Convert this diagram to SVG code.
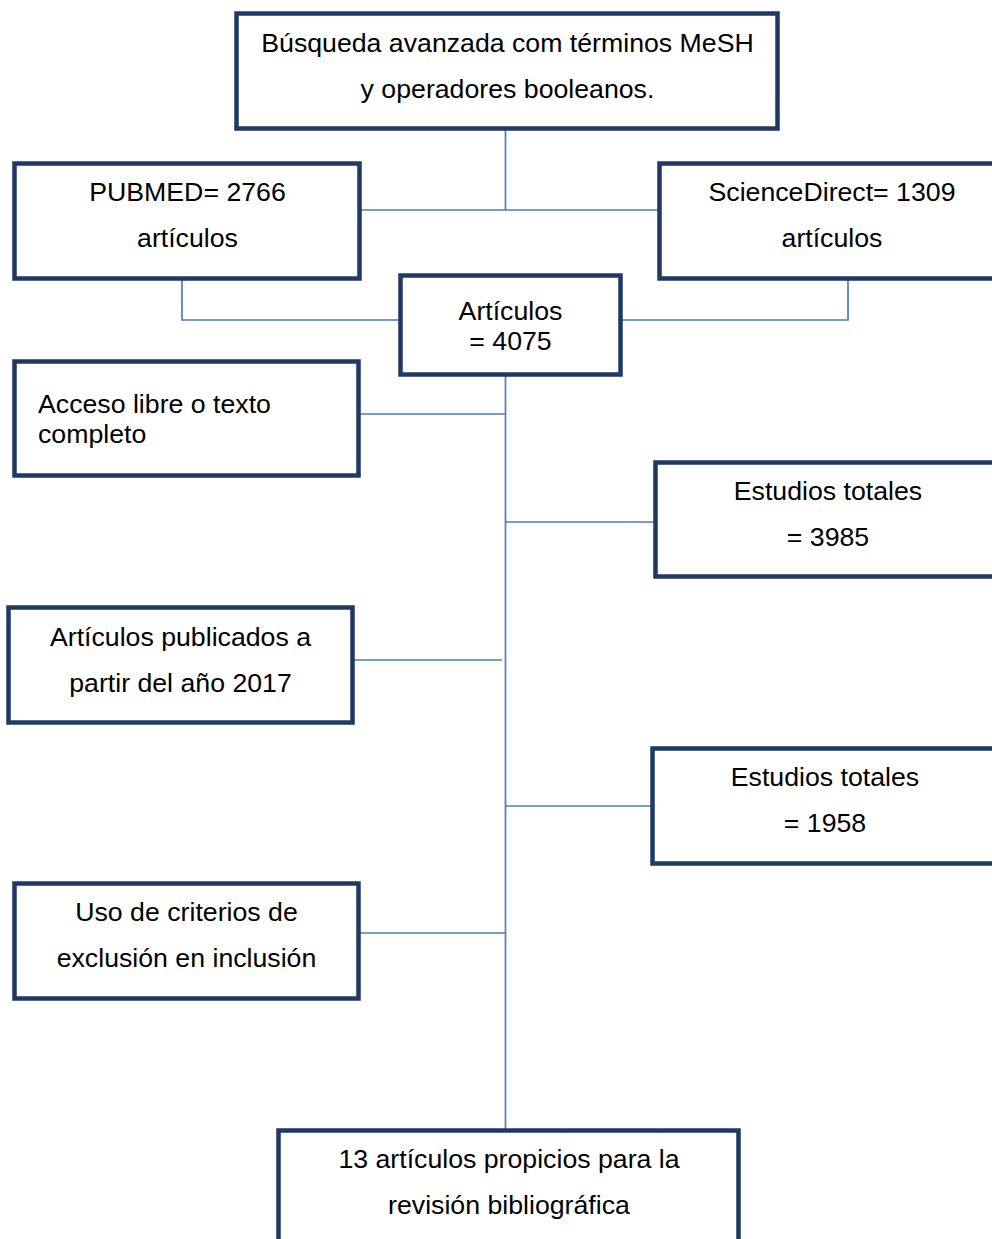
<svg xmlns="http://www.w3.org/2000/svg" width="992" height="1239" viewBox="0 0 992 1239">
<style>
.box{fill:#fff;stroke:#1f3864;stroke-width:4.5}
.c{fill:none;stroke:#4a7ebb;stroke-width:1.7}
text{font-family:"Liberation Sans",Arial,sans-serif;font-size:26.7px;fill:#000}
.m{text-anchor:middle}
</style>
<rect width="992" height="1239" fill="#fff"/>
<g id="connectors">
<path class="c" d="M505.5 128V210M360 210H659"/>
<path class="c" d="M182 278V320H400"/>
<path class="c" d="M848 278V320H621"/>
<path class="c" d="M505.5 375V1130"/>
<path class="c" d="M359 414H505.5"/>
<path class="c" d="M505.5 522H655"/>
<path class="c" d="M353 660H502"/>
<path class="c" d="M505.5 806H652"/>
<path class="c" d="M359 933H505.5"/>
</g>
<g id="n-busqueda"><rect class="box" x="236.5" y="13.5" width="541" height="115"/>
<text class="m" x="507.5" y="52">Búsqueda avanzada com términos MeSH</text>
<text class="m" x="507.5" y="97.5">y operadores booleanos.</text></g>
<g id="n-pubmed"><rect class="box" x="14.5" y="163.5" width="345" height="115"/>
<text class="m" x="187.5" y="201">PUBMED= 2766</text>
<text class="m" x="187.5" y="247">artículos</text></g>
<g id="n-sciencedirect"><rect class="box" x="659.5" y="163.5" width="340" height="115"/>
<text class="m" x="832" y="201">ScienceDirect= 1309</text>
<text class="m" x="832" y="247">artículos</text></g>
<g id="n-articulos"><rect class="box" x="400.5" y="275.5" width="220" height="99"/>
<text class="m" x="510.5" y="320">Artículos</text>
<text class="m" x="510.5" y="350">= 4075</text></g>
<g id="n-acceso"><rect class="box" x="14.5" y="361.5" width="344" height="114"/>
<text x="38" y="413">Acceso libre o texto</text>
<text x="38" y="443">completo</text></g>
<g id="n-estudios1"><rect class="box" x="655.5" y="462.5" width="344" height="114"/>
<text class="m" x="828" y="500">Estudios totales</text>
<text class="m" x="828" y="546">= 3985</text></g>
<g id="n-publicados"><rect class="box" x="8.5" y="607.5" width="344" height="115"/>
<text class="m" x="180.5" y="646">Artículos publicados a</text>
<text class="m" x="180.5" y="692">partir del año 2017</text></g>
<g id="n-estudios2"><rect class="box" x="652.5" y="748.5" width="347" height="115"/>
<text class="m" x="825" y="786">Estudios totales</text>
<text class="m" x="825" y="832">= 1958</text></g>
<g id="n-criterios"><rect class="box" x="14.5" y="883.5" width="344" height="115"/>
<text class="m" x="186.5" y="921">Uso de criterios de</text>
<text class="m" x="186.5" y="967">exclusión en inclusión</text></g>
<g id="n-final"><rect class="box" x="278.5" y="1130.5" width="460" height="130"/>
<text class="m" x="509" y="1168">13 artículos propicios para la</text>
<text class="m" x="509" y="1214">revisión bibliográfica</text></g>
</svg>
